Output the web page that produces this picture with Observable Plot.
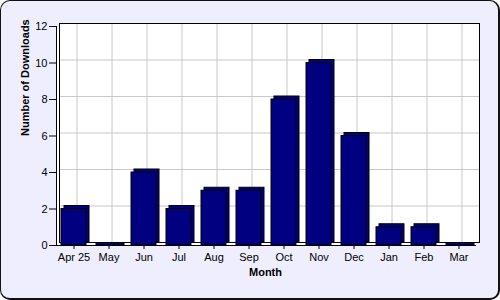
<!DOCTYPE html>
<html><head><meta charset="utf-8">
<script src="https://cdn.jsdelivr.net/npm/d3@7"></script>
<script src="https://cdn.jsdelivr.net/npm/@observablehq/plot@0.6"></script>
<style>
html,body{margin:0;padding:0;background:#fff;}
#wrap{position:relative;width:500px;height:300px;overflow:hidden;}
#panel{position:absolute;left:0;top:0;width:497px;height:297px;border-style:solid;border-color:#111;border-width:1px 2px 2px 1px;border-radius:10px;background:#eeeeff;}
#chart{position:absolute;left:0;top:0;}
</style></head><body>
<div id="wrap"><div id="panel"></div><div id="chart"></div></div>
<script>
const months = ["Apr 25","May","Jun","Jul","Aug","Sep","Oct","Nov","Dec","Jan","Feb","Mar"];
const downloads = [2,0,4,2,3,3,8,10,6,1,1,0];
const yTicks = [0,2,4,6,8,10,12];
const xTitle = "Month";
const yTitle = "Number of Downloads";

const data = months.map((m,i)=>({month:m, value:downloads[i]}));
const nonZero = data.filter(d => d.value > 0);
const zeros = data.filter(d => d.value === 0);
const depth = 3;
const navy = "#000080";
const gridColor = "#c8c8c8";

const plot = Plot.plot({
  width: 500, height: 300,
  marginLeft: 56, marginRight: 24, marginTop: 26, marginBottom: 55,
  style: {background: "transparent", fontFamily: "'Liberation Sans', Arial, sans-serif", fontSize: "11px", color: "#000", overflow: "visible"},
  x: {domain: months, padding: 0},
  y: {domain: [0,12]},
  marks: [
    Plot.frame({fill: "white", stroke: "none"}),
    Plot.frame({fill: "white", stroke: "none", dx: depth, dy: -depth}),
    Plot.gridY(yTicks, {stroke: gridColor, strokeOpacity: 1, dx: depth, dy: -depth}),
    Plot.gridX({stroke: gridColor, strokeOpacity: 1, dx: depth, dy: -depth}),
    Plot.frame({stroke: "black", strokeWidth: 1, dx: depth, dy: -depth}),
    Plot.frame({anchor: "left", stroke: "black", strokeWidth: 1}),
    Plot.ruleY([0], {stroke: "black"}),
    Plot.barY(nonZero, {x: "month", y: "value", fill: navy, stroke: "black", strokeWidth: 1, insetLeft: 5, insetRight: 5, dx: depth, dy: -depth}),
    Plot.barY(nonZero, {x: "month", y: "value", fill: navy, stroke: "black", strokeWidth: 1, insetLeft: 5, insetRight: 5}),
    Plot.barY(zeros, {x: "month", y: "value", fill: navy, stroke: "black", strokeWidth: 1, insetLeft: 5, insetRight: 2, insetTop: -2.5}),
    Plot.axisY(yTicks, {tickSize: 7, tickPadding: 2, label: null}),
    Plot.axisX({tickSize: 4, tickPadding: 4, label: null}),
    Plot.text([yTitle], {text: d => d, frameAnchor: "left", rotate: -90, dx: -31, fontWeight: "bold", fontSize: 11}),
    Plot.text([xTitle], {text: d => d, frameAnchor: "bottom", dy: 30.5, dx: -1, fontWeight: "bold", fontSize: 11})
  ]
});
document.getElementById("chart").appendChild(plot);
</script>
</body></html>
